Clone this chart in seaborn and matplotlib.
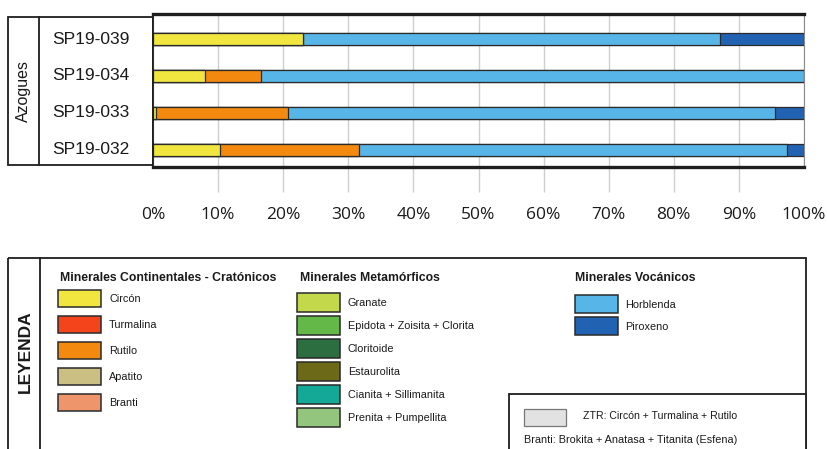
import matplotlib
matplotlib.use("Agg")
import matplotlib.pyplot as plt
import matplotlib.transforms as mtransforms
from matplotlib.patches import Rectangle
import pandas as pd
import seaborn as sns

# ---- data -------------------------------------------------------------
locality = "Azogues"
samples = ["SP19-039", "SP19-034", "SP19-033", "SP19-032"]
circon = [23.1, 8.0, 0.4, 10.3]
rutilo = [0.0, 8.6, 20.4, 21.3]
horblenda = [64.0, 83.4, 74.8, 65.8]
piroxeno = [12.9, 0.0, 4.4, 2.6]

tick_values = [0, 10, 20, 30, 40, 50, 60, 70, 80, 90, 100]
tick_labels = [f"{v}%" for v in tick_values]

# legend groups
cont_title = "Minerales Continentales - Cratónicos"
cont_names = ["Circón", "Turmalina", "Rutilo", "Apatito", "Branti"]
cont_colors = ["#F1E63F", "#F4441B", "#F3890F", "#CBBF84", "#EF956B"]

meta_title = "Minerales Metamórficos"
meta_names = ["Granate", "Epidota + Zoisita + Clorita", "Cloritoide",
              "Estaurolita", "Cianita + Sillimanita", "Prenita + Pumpellita"]
meta_colors = ["#C3D84B", "#63B848", "#2D6E40", "#6C6A19", "#14A897", "#93C57F"]

volc_title = "Minerales Vocánicos"
volc_names = ["Horblenda", "Piroxeno"]
volc_colors = ["#58B5E7", "#2262B2"]

ztr_text = "ZTR: Circón + Turmalina + Rutilo"
branti_text = "Branti: Brokita + Anatasa + Titanita (Esfena)"
legend_label = "LEYENDA"

palette = dict(zip(cont_names + meta_names + volc_names,
                   cont_colors + meta_colors + volc_colors))

# ---- table of cumulative stacks --------------------------------------
stack_order = ["Circón", "Rutilo", "Horblenda", "Piroxeno"]
df = pd.DataFrame({"Muestra": samples, "Circón": circon, "Rutilo": rutilo,
                   "Horblenda": horblenda, "Piroxeno": piroxeno})
cum = df[stack_order].cumsum(axis=1)
for m in stack_order:
    df["cum_" + m] = cum[m]

# ---- figure ------------------------------------------------------------
sns.set_style("white")
plt.rcParams["font.family"] = ["Liberation Sans", "DejaVu Sans"]

W, H = 827, 449
fig = plt.figure(figsize=(W / 100, H / 100), dpi=100)

# frame layer in pixel units for boxes and legend
frame = fig.add_axes([0, 0, 1, 1], zorder=0)
frame.set_xlim(0, W)
frame.set_ylim(H, 0)
frame.axis("off")
frame.patch.set_alpha(0)

# main stacked-bar axes
x0, x1, y0, y1 = 153, 804, 14, 167
ax = fig.add_axes([x0 / W, 1 - y1 / H, (x1 - x0) / W, (y1 - y0) / H], zorder=2)
ax.patch.set_alpha(0)

for m in reversed(stack_order):
    sns.barplot(data=df, y="Muestra", x="cum_" + m, order=samples,
                orient="h", color=palette[m], saturation=1, width=0.32,
                edgecolor="#2a2a2a", linewidth=0.9, errorbar=None, ax=ax)

ax.set_xlim(0, 100)
ax.set_ylim(3.46, -0.676)
ax.set_xlabel("")
ax.set_ylabel("")
ax.tick_params(axis="y", left=False, labelleft=False)
ax.set_xticks(tick_values, tick_labels)
ax.tick_params(axis="x", bottom=True, length=18, width=1, color="#cfcfcf",
               pad=11, labelsize=12.5, labelcolor="#1a1a1a")
for lab in ax.get_xticklabels():
    lab.set_fontfamily(["Open Sans", "DejaVu Sans"])
ticks = ax.xaxis.get_major_ticks()
ticks[0].tick1line.set_visible(False)
ticks[-1].tick1line.set_visible(False)

ax.set_axisbelow(True)
ax.xaxis.grid(True, color="#cfcfcf", linewidth=1)
for side in ("top", "bottom"):
    ax.spines[side].set_linewidth(2.4)
    ax.spines[side].set_color("#1e1e1e")
ax.spines["left"].set_linewidth(1.3)
ax.spines["left"].set_color("#1e1e1e")
ax.spines["right"].set_linewidth(0.8)
ax.spines["right"].set_color("#8a8a8a")

# ---- sample box to the left ------------------------------------------
frame.add_patch(Rectangle((8, 17), 145, 148, fill=False,
                          edgecolor="#1e1e1e", linewidth=1.3))
frame.plot([39, 39], [17, 165], color="#1e1e1e", linewidth=1.3)
frame.text(23, 91, locality, rotation=90, ha="center", va="center",
           fontsize=11.5, color="#1a1a1a")
blend = mtransforms.blended_transform_factory(frame.transData, ax.transData)
for i, s in enumerate(samples):
    frame.text(52, i, s, transform=blend, ha="left", va="center",
               fontsize=12.5, color="#1a1a1a")

# ---- legend panel ------------------------------------------------------
frame.add_patch(Rectangle((8, 258), 798, 260, fill=False,
                          edgecolor="#1e1e1e", linewidth=1.3))
frame.plot([40, 40], [258, H + 5], color="#1e1e1e", linewidth=1.3)
frame.text(25, 352, legend_label, rotation=90, ha="center", va="center",
           fontsize=12.5, fontweight="bold", color="#1a1a1a")


def legend_column(title, names, colors, x, title_x, top, step, h, text_x):
    frame.text(title_x, 278, title, ha="left", va="center", fontsize=8.8,
               fontweight="bold", color="#1a1a1a")
    for k, (n, c) in enumerate(zip(names, colors)):
        yt = top + k * step
        frame.add_patch(Rectangle((x, yt), 43, h, facecolor=c,
                                  edgecolor="#2a2a2a", linewidth=1.1))
        frame.text(text_x, yt + h / 2 + 0.5, n, ha="left", va="center",
                   fontsize=7.8, color="#1a1a1a")


legend_column(cont_title, cont_names, cont_colors, 58, 60, 290, 26, 16.5, 109)
legend_column(meta_title, meta_names, meta_colors, 297, 300, 293, 23, 19, 348)
legend_column(volc_title, volc_names, volc_colors, 575, 575, 295, 22, 18, 625)

# ZTR / Branti note
frame.add_patch(Rectangle((509, 394), 297, 120, facecolor="white",
                          edgecolor="#1e1e1e", linewidth=1.3))
frame.add_patch(Rectangle((524, 409), 42, 17, facecolor="#E2E2E2",
                          edgecolor="#777777", linewidth=0.9))
frame.text(583, 416, ztr_text, ha="left", va="center", fontsize=7.6,
           color="#1a1a1a")
frame.text(524, 440, branti_text, ha="left", va="center", fontsize=7.8,
           color="#1a1a1a")

fig.savefig("out.png", dpi=100)
